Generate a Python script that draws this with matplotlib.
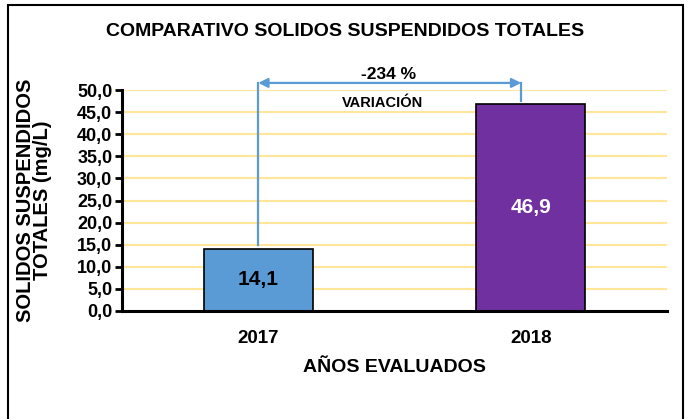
import matplotlib.pyplot as plt
from matplotlib.patches import Rectangle
from matplotlib.ticker import FuncFormatter

plt.rcParams['font.family'] = ['Liberation Sans', 'DejaVu Sans']
plt.rcParams['font.weight'] = 'bold'

years = ['2017', '2018']
values = [14.1, 46.9]
bar_colors = ['#5B9BD5', '#7030A0']
variation = '-234 %'
yticks = [0, 5, 10, 15, 20, 25, 30, 35, 40, 45, 50]


def main():
    fig = plt.figure(figsize=(6.9, 4.19), dpi=100)
    fig.patches.append(Rectangle((8/690, -0.05), 675/690, 1.05 - 5/419,
                                 transform=fig.transFigure, fill=False,
                                 edgecolor='black', linewidth=1.5))

    ax = fig.add_axes([122/690, 1 - 311/419, 545/690, 221/419])
    x = range(len(years))
    ax.bar(x, values, width=0.40, color=bar_colors, edgecolor='black',
           linewidth=1.2, zorder=3)
    for xi, v, c in zip(x, values, ['black', 'white']):
        ax.text(xi, v / 2, f"{v:.1f}".replace('.', ','), ha='center',
                va='center', fontsize=15, fontweight='bold', color=c, zorder=4)

    ax.set_xlim(-0.5, 1.5)
    ax.set_ylim(0, 50)
    ax.set_yticks(yticks)
    ax.yaxis.set_major_formatter(FuncFormatter(lambda v, p: f"{v:.1f}".replace('.', ',')))
    ax.set_xticks(list(x))
    ax.set_xticklabels(years)
    ax.tick_params(axis='y', labelsize=13, length=5, width=2, pad=2)
    ax.tick_params(axis='x', labelsize=13.5, length=0, pad=14)
    ax.grid(axis='y', color='#FFE699', linewidth=1.5, zorder=0)
    for s in ['top', 'right']:
        ax.spines[s].set_visible(False)
    for s in ['left', 'bottom']:
        ax.spines[s].set_linewidth(2.2)
    ax.spines['bottom'].set_zorder(5)

    ax.set_xlabel('AÑOS EVALUADOS', fontsize=14, fontweight='bold', labelpad=8)
    fig.text(34/690, 1 - 200/419, 'SOLIDOS SUSPENDIDOS\nTOTALES (mg/L)',
             rotation=90, ha='center', va='center', fontsize=14.5,
             fontweight='bold', multialignment='center', linespacing=0.9)
    fig.text(0.5, 1 - 32/419, 'COMPARATIVO SOLIDOS SUSPENDIDOS TOTALES',
             ha='center', va='center', fontsize=14, fontweight='bold')

    # variation arrow
    arrow_c = '#5B9BD5'
    x_right = 0.965
    y_top = 51.6
    ax.plot([0, 0], [15, y_top], color=arrow_c, lw=1.6, clip_on=False, zorder=2)
    ax.plot([x_right, x_right], [47.4, y_top], color=arrow_c, lw=1.6, clip_on=False, zorder=2)
    ax.annotate('', xy=(x_right, y_top), xytext=(0, y_top),
                arrowprops=dict(arrowstyle='<|-|>', color=arrow_c, lw=1.6,
                                mutation_scale=14, shrinkA=0, shrinkB=0),
                annotation_clip=False)
    ax.text(0.477, 53.4, variation, ha='center', va='center', fontsize=12.5)
    ax.text(0.455, 47.1, 'VARIACIÓN', ha='center', va='center', fontsize=10.5, zorder=4)

    fig.savefig('out.png', dpi=100)


if __name__ == "__main__":
    main()
